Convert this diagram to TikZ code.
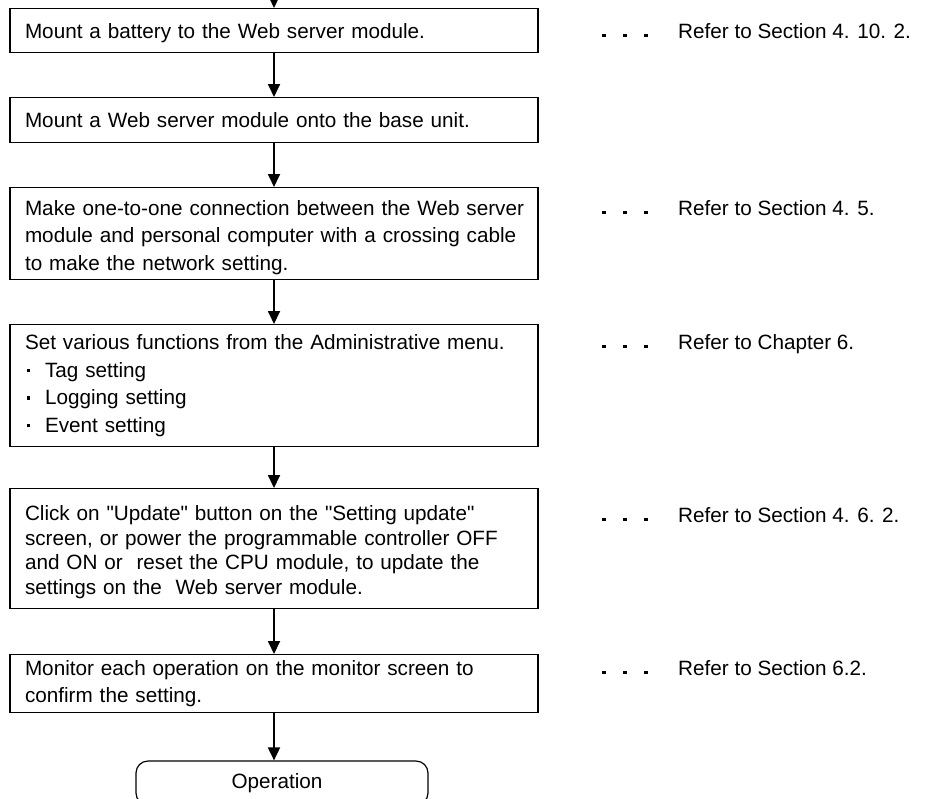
\documentclass[tikz,border=0pt]{standalone}
\usepackage{fontspec}
\setmainfont{Liberation Sans}
\usetikzlibrary{arrows.meta}

\newcommand{\refdots}{\makebox[76pt][l]{\rule[1pt]{3.5pt}{3.5pt}\hspace{17.5pt}\rule[1pt]{3.5pt}{3.5pt}\hspace{17.5pt}\rule[1pt]{3.5pt}{3.5pt}}}
\newcommand{\tagbullet}{\makebox[20pt][l]{\hspace*{1.5pt}\rule[5pt]{3.5pt}{3.5pt}}}

\begin{document}
\begin{tikzpicture}[x=1pt, y=-1pt,
    stepbox/.style={rectangle, draw, line width=1.2pt, anchor=north, text width=498pt,
      inner xsep=15pt, inner ysep=0pt, align=left, font=\fontsize{20.7}{27.5}\selectfont},
    endbox/.style={rectangle, draw, line width=1.2pt, rounded corners=12pt,
      minimum width=292pt, minimum height=44pt, font=\fontsize{20.7}{27.5}\selectfont},
    refnote/.style={anchor=base west, inner sep=0pt, font=\fontsize{20.7}{27.5}\selectfont},
    flowarrow/.style={-{Triangle[length=13pt,width=12pt]}, line width=1.8pt}]
      \clip (0,0) rectangle (925,798);

      % Procedure steps
      \node[stepbox, minimum height=44pt] (battery) at (274,8) {\rule{0pt}{21pt}Mount a battery to the Web server module.};
      \node[stepbox, minimum height=45pt] (mount) at (274,97) {Mount a Web server module onto the base unit.};
      \node[stepbox, minimum height=92pt] (network) at (274,187) {\rule{0pt}{23pt}\mbox{Make one-to-one connection between the Web server}\\module and personal computer with a crossing cable\\to make the network setting.};
      \node[stepbox, minimum height=122pt] (admin) at (274,324) {Set various functions from the Administrative menu.\\\tagbullet Tag setting\\\tagbullet Logging setting\\\tagbullet Event setting};
      \node[stepbox, minimum height=120pt, font=\fontsize{20.7}{24.5}\selectfont] (update) at (274,488) {\rule{0pt}{22pt}Click on \textquotedbl Update\textquotedbl{} button on the \textquotedbl Setting update\textquotedbl\\screen, or power the programmable controller OFF\\and ON or\ \ reset the CPU module, to update the\\settings on the\ \ Web server module.};
      \node[stepbox, minimum height=58pt] (monitor) at (274,654) {Monitor each operation on the monitor screen to\\confirm the setting.};
      \node[endbox, text width=280pt, align=center, inner xsep=6pt] (operation) at (282,783) {\hspace*{-10pt}Operation};
      \coordinate (entry) at (274,-2);

      % Flow
      \draw[flowarrow] (entry) -- (battery);
      \draw[flowarrow] (battery) -- (mount);
      \draw[flowarrow] (mount) -- (network);
      \draw[flowarrow] (network) -- (admin);
      \draw[flowarrow] (admin) -- (update);
      \draw[flowarrow] (update) -- (monitor);
      \draw[flowarrow] (monitor) -- (operation.north -| monitor.south);

      % References
      \node[refnote] (refbattery) at (602,38) {\refdots Refer to Section 4. 10. 2.};
      \node[refnote] (refnetwork) at (602,215) {\refdots Refer to Section 4. 5.};
      \node[refnote] (refadmin) at (602,349) {\refdots Refer to Chapter 6.};
      \node[refnote] (refupdate) at (602,522) {\refdots Refer to Section 4. 6. 2.};
      \node[refnote] (refmonitor) at (602,675) {\refdots Refer to Section 6.2.};
\end{tikzpicture}
\end{document}
